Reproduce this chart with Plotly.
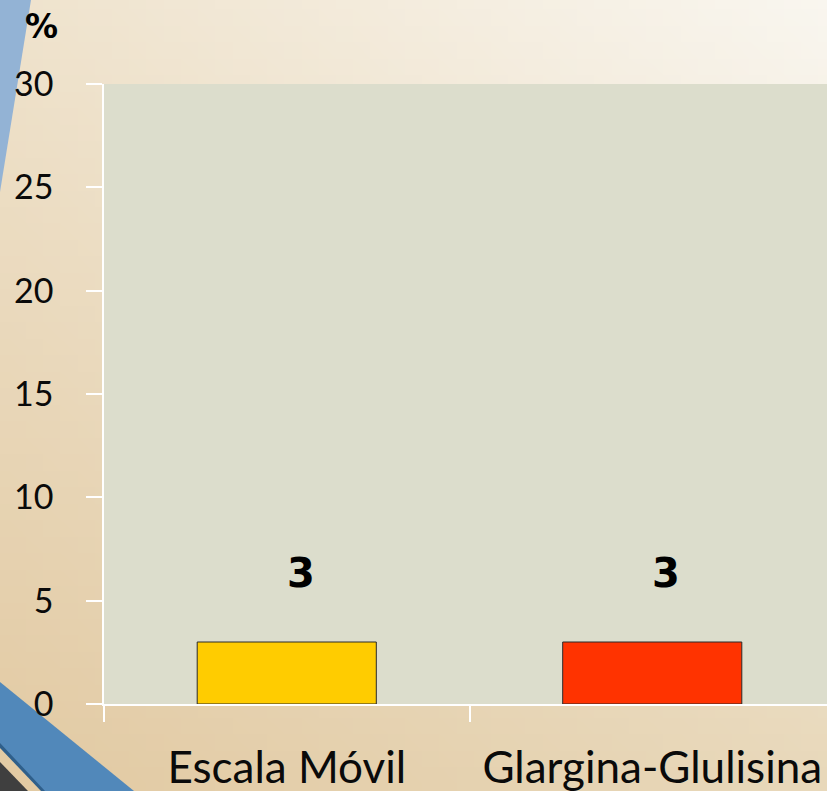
import base64
import struct
import zlib

import numpy as np
import plotly.graph_objects as go

# ---- data ----
categories = ["Escala Móvil", "Glargina-Glulisina"]
values = [3, 3]
bar_colors = ["#FFCC00", "#FF3300"]
y_ticks = [0, 5, 10, 15, 20, 25, 30]

W, H = 827, 791
PLOT_L, PLOT_T, PLOT_B = 104, 84, 87
PLOT_W, PLOT_H = W - PLOT_L, H - PLOT_T - PLOT_B


def gradient_png(w, h, tl, tr, bl, br):
    """Small bilinear-gradient PNG encoded as a data URI."""
    def rgb(c):
        c = c.lstrip("#")
        return np.array([int(c[i:i + 2], 16) for i in (0, 2, 4)], dtype=float)

    u = np.linspace(0, 1, w)[None, :, None]
    v = np.linspace(0, 1, h)[:, None, None]
    top = rgb(tl) * (1 - u) + rgb(tr) * u
    bot = rgb(bl) * (1 - u) + rgb(br) * u
    img = (top * (1 - v) + bot * v).round().clip(0, 255).astype(np.uint8)
    raw = b"".join(b"\x00" + img[r].tobytes() for r in range(h))

    def chunk(tag, data):
        body = tag + data
        return struct.pack(">I", len(data)) + body + struct.pack(">I", zlib.crc32(body) & 0xFFFFFFFF)

    png = b"\x89PNG\r\n\x1a\n"
    png += chunk(b"IHDR", struct.pack(">IIBBBBB", w, h, 8, 2, 0, 0, 0))
    png += chunk(b"IDAT", zlib.compress(raw, 9))
    png += chunk(b"IEND", b"")
    return "data:image/png;base64," + base64.b64encode(png).decode()


def px(x, y):
    """Page pixel position -> paper coordinates (paper = area inside margins)."""
    return (x - PLOT_L) / PLOT_W, 1 - (y - PLOT_T) / PLOT_H


def path(points):
    pts = [px(x, y) for x, y in points]
    return "M " + " L ".join(f"{a:.5f},{b:.5f}" for a, b in pts) + " Z"


fig = go.Figure()

fig.add_trace(go.Bar(
    x=categories,
    y=values,
    width=0.49,
    marker=dict(color=bar_colors, line=dict(color="#2a2a2a", width=1)),
    hoverinfo="skip",
))

# value labels above each bar
for cat, val in zip(categories, values):
    fig.add_annotation(
        x=cat, y=val, text=f"<b>{val}</b>", showarrow=False,
        yanchor="middle", yshift=69, xshift=14,
        font=dict(family="DejaVu Sans", size=40, color="#000000"),
    )

# percent sign above the y axis
pct_x, pct_y = px(41, 27)
fig.add_annotation(
    xref="paper", yref="paper", x=pct_x, y=pct_y,
    text="<b>%</b>", showarrow=False, xanchor="center", yanchor="middle",
    font=dict(family="DejaVu Sans", size=33, color="#000000"),
)

shapes = [
    # plot area fill
    dict(type="rect", xref="paper", yref="paper", x0=0, x1=1, y0=0, y1=1,
         fillcolor="#DCDDCC", line=dict(width=0), layer="below"),
    # blue wedge, top left
    dict(type="path", xref="paper", yref="paper",
         path=path([(0, 0), (31, 0), (0, 192)]),
         fillcolor="#93B3D5", line=dict(width=0), layer="below"),
    # blue band, bottom left
    dict(type="path", xref="paper", yref="paper",
         path=path([(0, 682), (134, 791), (44, 791), (0, 745)]),
         fillcolor="#5188BA", line=dict(width=0), layer="below"),
    dict(type="path", xref="paper", yref="paper",
         path=path([(0, 743), (45, 791), (41, 791), (0, 748)]),
         fillcolor="#2F5F8A", line=dict(width=0), layer="below"),
    # dark corner
    dict(type="path", xref="paper", yref="paper",
         path=path([(0, 762), (28, 791), (0, 791)]),
         fillcolor="#3F3F3F", line=dict(width=0), layer="below"),
]

cat_px = 365.5
x_max = -0.5 + PLOT_W / cat_px

img_x0, img_y0 = px(0, 0)
fig.update_layout(
    width=W, height=H, autosize=False,
    margin=dict(l=PLOT_L, r=0, t=PLOT_T, b=PLOT_B, pad=0),
    paper_bgcolor="#EADCC2",
    plot_bgcolor="rgba(0,0,0,0)",
    showlegend=False,
    shapes=shapes,
    images=[dict(
        source=gradient_png(48, 48, "#EFE3CD", "#F9F6EF", "#E2CAA3", "#E8D8BA"),
        xref="paper", yref="paper", x=img_x0, y=img_y0,
        sizex=W / PLOT_W, sizey=H / PLOT_H,
        xanchor="left", yanchor="top", sizing="stretch", layer="below",
    )],
    xaxis=dict(
        range=[-0.5, x_max],
        showgrid=False, zeroline=False,
        showline=True, linecolor="#FFFFFF", linewidth=1.5,
        ticks="outside", tickson="boundaries", ticklen=16, tickwidth=1.5,
        tickcolor="#FFFFFF",
        tickfont=dict(family="Lato", size=44, color="#0A0A0A"),
        ticklabelstandoff=24,
    ),
    yaxis=dict(
        range=[0, 30],
        tickvals=y_ticks,
        showgrid=False, zeroline=False,
        showline=True, linecolor="#FFFFFF", linewidth=1.5,
        ticks="outside", ticklen=16, tickwidth=1.5, tickcolor="#FFFFFF",
        tickfont=dict(family="Lato", size=34, color="#0A0A0A"),
        ticklabelstandoff=26,
    ),
)

fig.write_html("out.html")
